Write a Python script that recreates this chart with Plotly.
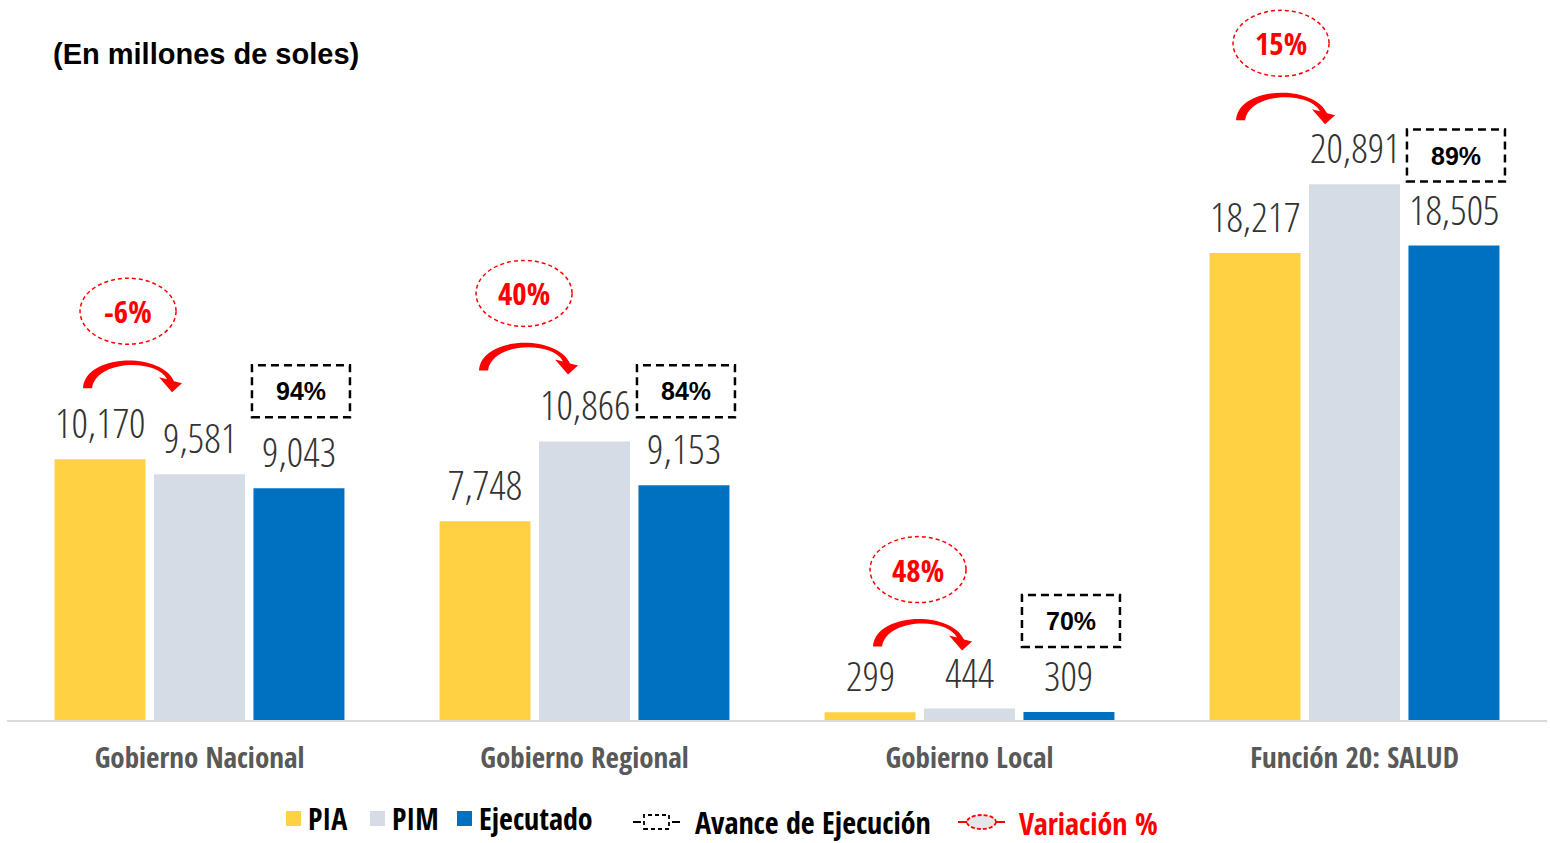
import plotly.graph_objects as go

# ---------------- data ----------------
categories = ["Gobierno Nacional", "Gobierno Regional", "Gobierno Local", "Función 20: SALUD"]
pia = [10170, 7748, 299, 18217]
pim = [9581, 10866, 444, 20891]
ejecutado = [9043, 9153, 309, 18505]
variacion = ["-6%", "40%", "48%", "15%"]
avance = ["94%", "84%", "70%", "89%"]
series_names = ["PIA", "PIM", "Ejecutado"]
series_colors = ["#FFD143", "#D6DCE5", "#0070C0"]

# ---------------- layout constants ----------------
W, H = 1550, 843
ML, MR, MT, MB = 7, 3, 0, 123
PW, PH = W - ML - MR, H - MT - MB
YMAX = 28080
BARGAP, GROUPGAP = 0.225, 0.085
SLOT = (1 - BARGAP) / 3

COND = "Open Sans Condensed, DejaVu Sans Condensed, Liberation Sans"
COND_LIGHT = "Open Sans Condensed Light, DejaVu Sans Condensed, Liberation Sans"
ARIAL = "Liberation Sans, Arial, sans-serif"

ell_dx = [28, 39, 48, 26]
ell_dy = [148, 148, 139, 141]
rect_dy = [97, 94, 91, 90]

fig = go.Figure()
xs = list(range(len(categories)))
for name, vals, col in zip(series_names, [pia, pim, ejecutado], series_colors):
    fig.add_trace(go.Bar(x=xs, y=vals, name=name, marker=dict(color=col, line=dict(width=0)),
                         showlegend=False, hoverinfo="x+y"))

annotations = []
shapes = []

for j, vals in enumerate([pia, pim, ejecutado]):
    for i, v in enumerate(vals):
        annotations.append(dict(x=i + (j - 1) * SLOT, y=v, xref="x", yref="y", text=f"{v:,}",
                                showarrow=False, yanchor="bottom", yshift=8, borderpad=0,
                                font=dict(family=COND_LIGHT, size=41, color="#333333", weight=300)))

def shift_path(pts_cmds, dx, dy):
    out = []
    for cmd, pts in pts_cmds:
        out.append(cmd + " " + " ".join(f"{x + dx},{y + dy}" for x, y in pts))
    return " ".join(out) + " Z"

arrow_def = [
    ("M", [(-45, -77)]),
    ("C", [(-43, -43), (32, -40), (46, -70)]),
    ("L", [(54, -72)]),
    ("L", [(44, -81)]),
    ("L", [(31, -66)]),
    ("L", [(39, -68)]),
    ("C", [(28, -47), (-32, -49), (-36, -77)]),
]

for i in xs:
    xa = i - SLOT
    ya = max(pia[i], pim[i])
    dx, dy = ell_dx[i], ell_dy[i]
    shapes.append(dict(type="circle", xref="x", yref="y", xsizemode="pixel", ysizemode="pixel",
                       xanchor=xa, yanchor=ya, x0=dx - 48, x1=dx + 48, y0=dy - 33, y1=dy + 33,
                       line=dict(color="#FF0000", width=1.5, dash="4px,3px"), fillcolor="rgba(0,0,0,0)"))
    annotations.append(dict(x=xa, y=ya, xref="x", yref="y", xshift=dx, yshift=dy, text=variacion[i],
                            showarrow=False,
                            font=dict(family=COND, size=31, color="#FF0000", weight="bold")))
    shapes.append(dict(type="path", xref="x", yref="y", xsizemode="pixel", ysizemode="pixel",
                       xanchor=xa, yanchor=ya, path=shift_path(arrow_def, dx, dy),
                       fillcolor="#FF0000", line=dict(width=0)))
    xe = i + SLOT
    ye = ejecutado[i]
    rdy = rect_dy[i]
    shapes.append(dict(type="rect", xref="x", yref="y", xsizemode="pixel", ysizemode="pixel",
                       xanchor=xe, yanchor=ye, x0=-47, x1=51, y0=rdy - 26, y1=rdy + 26,
                       line=dict(color="#000000", width=2.5, dash="8px,5px"), fillcolor="rgba(0,0,0,0)"))
    annotations.append(dict(x=xe, y=ye, xref="x", yref="y", xshift=2, yshift=rdy, text=avance[i],
                            showarrow=False, font=dict(family=ARIAL, size=25, color="#000000", weight="bold")))

def px(xp):
    return (xp - ML) / PW

def py(yp):
    return (H - MB - yp) / PH

annotations.append(dict(x=px(51), y=py(54), xref="paper", yref="paper", xanchor="left", yanchor="middle",
                        text="(En millones de soles)", showarrow=False,
                        font=dict(family=ARIAL, size=29, color="#000000", weight="bold")))

leg_sq = [286, 370, 457]
for name, col, x0 in zip(series_names, series_colors, leg_sq):
    shapes.append(dict(type="rect", xref="paper", yref="paper", x0=px(x0), x1=px(x0 + 15),
                       y0=py(826), y1=py(811), fillcolor=col, line=dict(width=0)))
    annotations.append(dict(x=px(x0 + 20), y=py(818), xref="paper", yref="paper", xanchor="left",
                            yanchor="middle", text=name, showarrow=False,
                            font=dict(family=COND, size=30, color="#000000", weight="bold")))

yc = 822
shapes.append(dict(type="line", xref="paper", yref="paper", x0=px(633), x1=px(641), y0=py(yc), y1=py(yc),
                   line=dict(color="#000000", width=2)))
shapes.append(dict(type="line", xref="paper", yref="paper", x0=px(672), x1=px(680), y0=py(yc), y1=py(yc),
                   line=dict(color="#000000", width=2)))
shapes.append(dict(type="rect", xref="paper", yref="paper", x0=px(644), x1=px(669), y0=py(829), y1=py(815),
                   line=dict(color="#000000", width=1.8, dash="4px,3px"), fillcolor="rgba(0,0,0,0)"))
annotations.append(dict(x=px(693), y=py(yc), xref="paper", yref="paper", xanchor="left", yanchor="middle",
                        text="Avance de Ejecución", showarrow=False,
                        font=dict(family=COND, size=30, color="#000000", weight="bold")))

shapes.append(dict(type="line", xref="paper", yref="paper", x0=px(958), x1=px(968), y0=py(yc), y1=py(yc),
                   line=dict(color="#FF0000", width=2)))
shapes.append(dict(type="line", xref="paper", yref="paper", x0=px(995), x1=px(1005), y0=py(yc), y1=py(yc),
                   line=dict(color="#FF0000", width=2)))
shapes.append(dict(type="circle", xref="paper", yref="paper", x0=px(967), x1=px(996), y0=py(829), y1=py(815),
                   line=dict(color="#FF0000", width=1.8, dash="4px,2px"), fillcolor="#E6E6E6"))
annotations.append(dict(x=px(1017), y=py(yc + 1), xref="paper", yref="paper", xanchor="left", yanchor="middle",
                        text="Variación %", showarrow=False,
                        font=dict(family=COND, size=30, color="#FF0000", weight="bold")))

fig.update_layout(
    width=W, height=H,
    margin=dict(l=ML, r=MR, t=MT, b=MB, pad=0),
    paper_bgcolor="white", plot_bgcolor="white",
    barmode="group", bargap=BARGAP, bargroupgap=GROUPGAP,
    showlegend=False,
    annotations=annotations, shapes=shapes,
    xaxis=dict(range=[-0.5, 3.5], tickvals=xs, ticktext=categories, showgrid=False, zeroline=False,
               showline=True, linecolor="#D9D9D9", linewidth=2, ticks="", ticklabelstandoff=11,
               tickfont=dict(family=COND, size=29, color="#595959", weight="bold")),
    yaxis=dict(range=[0, YMAX], showgrid=False, zeroline=False, showticklabels=False, showline=False),
)

fig.write_html("out.html", config={"displayModeBar": False},
               post_script="document.body.style.margin='0';")
